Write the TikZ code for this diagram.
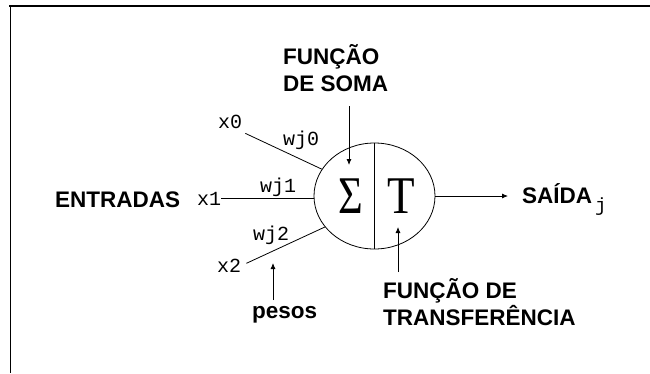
\documentclass[tikz,border=0pt]{standalone}
\usepackage[no-math]{fontspec}
\setmainfont{Liberation Sans}
\newfontfamily\monof{Liberation Mono}
\newfontfamily\seriff{Liberation Serif}
\usetikzlibrary{arrows.meta,shapes.geometric}
\begin{document}
\begin{tikzpicture}[x=1pt,y=-1pt,
  lab/.style={font=\fontsize{22.5}{22.5}\selectfont\bfseries, inner sep=0pt, anchor=base west},
  small/.style={font=\fontsize{20}{20}\selectfont\monof, inner sep=0pt, anchor=base west},
  sym/.style={font=\fontsize{53}{53}\selectfont\seriff, inner sep=0pt},
  wire/.style={line width=0.8pt},
  arr/.style={line width=0.8pt, -{Latex[length=6pt,width=5pt]}}]
\useasboundingbox (0,0) rectangle (650,373);
% frame
\draw[line width=2pt] (9,6) -- (650,6);
\draw[line width=1pt] (10.5,6) -- (10.5,373);
% neuron
\node[draw, ellipse, minimum width=121pt, minimum height=106pt, inner sep=0pt, line width=0.8pt] (neuron) at (374.5,196) {};
\draw[wire] (neuron.north) -- (neuron.south);
\node[sym] (sigma) at (351,196) {\scalebox{0.8}[1]{Σ}};
\node[sym] (tee) at (401,196) {\scalebox{0.85}[1]{T}};
% labels
\node[lab] (soma1) at (283,64) {FUNÇÃO};
\node[lab] (soma2) at (283,91) {DE SOMA};
\node[lab] (entr) at (55,207) {ENTRADAS};
\node[small] (x0) at (218,128) {x0};
\node[small] (x1) at (197,205) {x1};
\node[small] (x2) at (217,272) {x2};
\node[small] (w0) at (283,145) {wj0};
\node[small] (w1) at (260,192) {wj1};
\node[small] (w2) at (253,240) {wj2};
\node[lab] (saida) at (522,203) {SAÍDA\hspace{3pt}\raisebox{-8pt}{\mdseries\monof\fontsize{19}{19}\selectfont j}};
\node[lab] (trans1) at (383,298) {FUNÇÃO DE};
\node[lab] (trans2) at (383,325) {TRANSFERÊNCIA};
\node[lab] (pesos) at (252,318) {pesos};
% coordinates for free ends
\coordinate (sumtip) at (349,165);
\coordinate (sumtail) at (349,106);
\coordinate (ttip) at (398,227);
\coordinate (ttail) at (398,272);
\coordinate (ptip) at (273,263);
\coordinate (ptail) at (273,300);
\coordinate (outtip) at (508,196);
% wires
\draw[wire] ([xshift=3pt,yshift=-5pt]x0.south east) -- (neuron.153);
\draw[wire] (x1.east) -- (x1.east -| neuron.west);
\draw[wire] ([xshift=5pt,yshift=2pt]x2.east) -- (neuron.212);
% arrows
\draw[arr] (sumtail) -- (sumtip);
\draw[arr] (ttail) -- (ttip);
\draw[arr] (ptail) -- (ptip);
\draw[arr] (neuron.east) -- (outtip);
\end{tikzpicture}
\end{document}
